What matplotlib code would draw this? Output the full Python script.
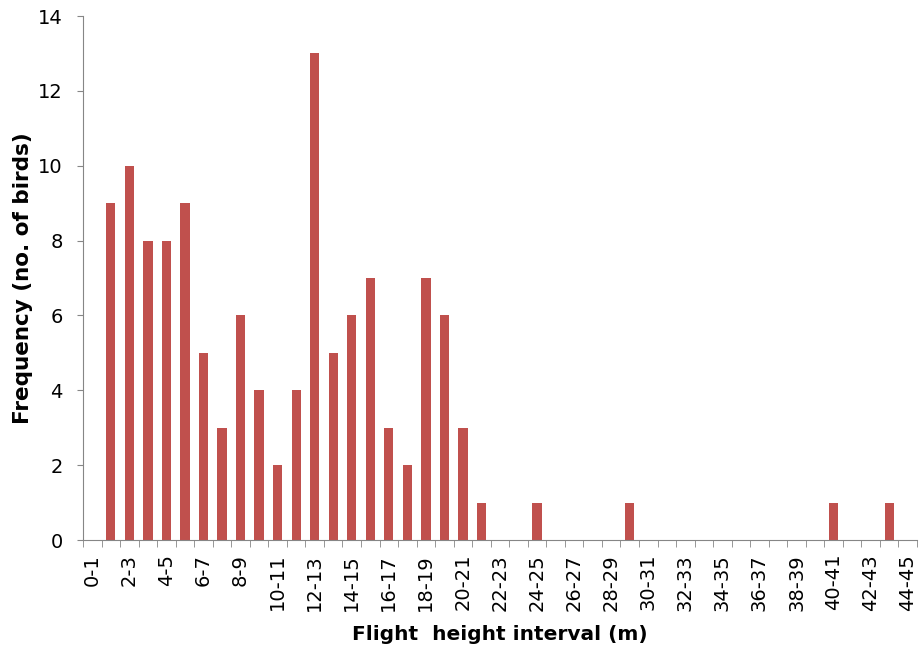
import matplotlib.pyplot as plt
import numpy as np

intervals = [f"{i}-{i+1}" for i in range(45)]
counts = [0, 9, 10, 8, 8, 9, 5, 3, 6, 4, 2, 4, 13, 5, 6, 7, 3, 2, 7, 6, 3, 1,
          0, 0, 1, 0, 0, 0, 0, 1, 0, 0, 0, 0, 0, 0, 0, 0, 0, 0, 1, 0, 0, 1, 0]

plt.rcParams['font.family'] = ['DejaVu Sans']
W, H = 923, 650
fig = plt.figure(figsize=(W / 100, H / 100), dpi=100)
# plot area in pixels: x 83..917, y 16..540
ax = fig.add_axes([83/W, 1 - 540/H, (917-83)/W, (540-16)/H])

x = np.arange(len(intervals))
ax.bar(x, counts, width=0.5, color="#C0504D")

ax.set_xlim(-0.5, len(intervals) - 0.5)
ax.set_ylim(0, 14)
ax.set_yticks(range(0, 15, 2))
ax.set_xticks(x[::2])
ax.set_xticklabels(intervals[::2], rotation=90, fontsize=14)
ax.set_xticks(np.arange(-0.5, len(intervals), 1), minor=True)
ax.tick_params(axis="x", which="major", length=0, pad=10)
ax.tick_params(axis="x", which="minor", length=5, color="#868686")
ax.tick_params(axis="y", length=4.5, color="#868686", labelsize=14, pad=10)

for s in ["top", "right"]:
    ax.spines[s].set_visible(False)
for s in ["left", "bottom"]:
    ax.spines[s].set_color("#868686")

xl = ax.set_xlabel("Flight  height interval (m)", fontsize=14.5, fontweight="bold")
ax.xaxis.set_label_coords(0.5, (540 - 634) / 524)
xl.set_va("center")
yl = ax.set_ylabel("Frequency (no. of birds)", fontsize=15.5, fontweight="bold")
ax.yaxis.set_label_coords((23 - 83) / 834, 0.5)
yl.set_va("center")

fig.savefig("out.png", dpi=100)
